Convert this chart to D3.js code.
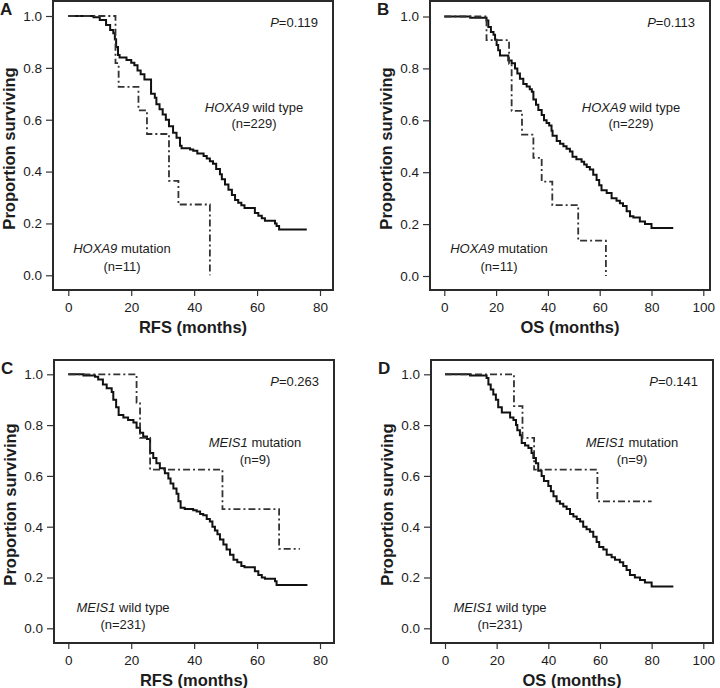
<!DOCTYPE html>
<html>
<head>
<meta charset="utf-8">
<script src="https://cdn.jsdelivr.net/npm/d3@7"></script>
<style>
  html, body { margin: 0; padding: 0; background: #fff; }
  svg { display: block; font-family: "Liberation Sans", Arial, Helvetica, sans-serif; }
</style>
</head>
<body>
<svg id="chart" width="720" height="688"></svg>
<script>
// Kaplan-Meier curves: [month, proportion surviving]
const hoxa9WildRFS = [[0,1],[8,0.995],[10,0.985],[12,0.965],[13.3,0.946],[14.3,0.933],[14.8,0.91],[15.2,0.88],[15.8,0.85],[16.3,0.84],
  [18.5,0.83],[20,0.82],[21,0.81],[22,0.79],[23,0.775],[24.2,0.755],[26.3,0.70],[27.5,0.685],[28,0.66],[29,0.64],[30,0.62],[31,0.60],
  [32,0.575],[33.3,0.55],[34.4,0.53],[35.5,0.50],[36,0.49],[38.7,0.485],[39.7,0.48],[41,0.47],[43,0.46],[44,0.45],[45,0.44],[46,0.43],
  [47,0.41],[48.2,0.39],[48.8,0.37],[49.8,0.35],[50.9,0.33],[52,0.31],[53,0.29],[54,0.28],[55,0.27],[56,0.26],[59.3,0.24],[60.4,0.23],
  [61.5,0.22],[62.5,0.21],[65.7,0.20],[66.2,0.19],[67,0.177],[75.8,0.177]];
const hoxa9MutRFS = [[0,1],[15,0.818],[16,0.727],[22.3,0.636],[25,0.545],[32,0.364],[35,0.273],[45,0]];

const hoxa9WildOS = [[0,1],[10,0.995],[16.3,0.985],[17,0.96],[18,0.94],[19,0.93],[19.6,0.91],[20.2,0.89],[20.8,0.87],[21.5,0.85],
  [24.7,0.83],[26,0.82],[27.3,0.80],[28.2,0.78],[29.2,0.76],[30.5,0.74],[31.8,0.73],[33,0.72],[33.8,0.71],[34.4,0.68],[35.4,0.66],
  [36.3,0.64],[37.6,0.62],[38.5,0.60],[39.5,0.59],[40.5,0.58],[41.4,0.56],[41.8,0.54],[43.4,0.52],[44.7,0.51],[46,0.50],[47.2,0.49],
  [48.5,0.48],[49.5,0.46],[51,0.45],[53,0.44],[54,0.43],[55,0.42],[56.2,0.41],[57.5,0.39],[58.8,0.37],[59.8,0.35],[60.7,0.33],
  [62.7,0.32],[64.6,0.30],[66.5,0.29],[67.8,0.28],[69,0.27],[70.4,0.25],[71.7,0.23],[73,0.225],[75.5,0.21],[77.5,0.20],[80,0.185],[88.4,0.185]];
const hoxa9MutOS = [[0,1],[16.3,0.909],[25,0.818],[26,0.636],[30,0.545],[34.4,0.455],[37.6,0.364],[41.7,0.273],[51.7,0.136],[62.4,0]];

const meis1WildRFS = [[0,1],[4.8,0.995],[8.5,0.99],[9.5,0.98],[11,0.96],[12.2,0.945],[13.8,0.93],[14.3,0.90],[15.2,0.87],[16,0.84],
  [17.5,0.83],[19,0.82],[20.7,0.81],[21.7,0.79],[22.8,0.77],[23.8,0.755],[25,0.745],[26,0.69],[27,0.67],[28,0.65],[29.1,0.63],
  [30.7,0.61],[31.8,0.59],[32.5,0.57],[33.4,0.55],[34.4,0.53],[35,0.50],[35.7,0.475],[37,0.47],[39.7,0.465],[40.8,0.46],[41.9,0.45],
  [42.9,0.445],[44,0.43],[45,0.42],[45.8,0.40],[46.6,0.385],[47.4,0.37],[48.2,0.35],[49.3,0.33],[50.3,0.31],[51.4,0.29],[52.5,0.27],
  [53.7,0.26],[55,0.245],[56,0.24],[59.3,0.225],[60.4,0.21],[61.5,0.20],[62.5,0.195],[65.7,0.185],[66.2,0.17],[76,0.17]];
const meis1MutRFS = [[0,1],[21.7,0.889],[22.8,0.75],[26,0.625],[49,0.469],[67,0.3125],[73.6,0.3125]];

const meis1WildOS = [[0,1],[9.7,0.995],[16.1,0.985],[16.8,0.96],[17.7,0.94],[18.7,0.92],[19.7,0.90],[20.6,0.87],[22,0.85],[25.2,0.83],
  [26.5,0.82],[27.5,0.80],[28,0.78],[29,0.76],[29.7,0.73],[31,0.72],[32.3,0.71],[33.5,0.69],[34.2,0.67],[35.2,0.65],[36.1,0.62],
  [37.4,0.60],[38.3,0.58],[40,0.56],[41,0.54],[42,0.52],[43.2,0.50],[44.5,0.49],[45.8,0.48],[47.1,0.47],[48.4,0.45],[49.7,0.44],
  [51,0.43],[52.3,0.42],[53.5,0.40],[54.8,0.39],[56.1,0.38],[57.4,0.36],[58.7,0.34],[59.7,0.32],[61.3,0.31],[62.6,0.29],[64.5,0.28],
  [65.8,0.27],[67.7,0.26],[69,0.245],[70.3,0.23],[71.6,0.21],[73.5,0.20],[75.5,0.19],[77.4,0.18],[80,0.165],[88.4,0.165]];
const meis1MutOS = [[0,1],[26.7,0.875],[30,0.75],[34.5,0.625],[59,0.5],[80,0.5]];

const yTicks = [0, 0.2, 0.4, 0.6, 0.8, 1.0];
const xTicksRFS = [0, 20, 40, 60, 80];
const xTicksOS = [0, 20, 40, 60, 80, 100];
const pValues = ['0.119', '0.113', '0.263', '0.141'];

const svg = d3.select('#chart');
const ink = '#1c1c1c';

const panels = [
  { letter: 'A', frame: [53, 333, 1, 290], xMax: 80, xRange: [68.3, 320], yRange: [275.3, 16], xTicks: xTicksRFS, xTitle: 'RFS (months)',
    wild: hoxa9WildRFS, mut: hoxa9MutRFS, p: pValues[0], gene: 'HOXA9', wildN: 229, mutN: 11, mutOnTop: false },
  { letter: 'B', frame: [430, 710, 1, 290], xMax: 100, xRange: [444.3, 703.3], yRange: [276, 16.5], xTicks: xTicksOS, xTitle: 'OS (months)',
    wild: hoxa9WildOS, mut: hoxa9MutOS, p: pValues[1], gene: 'HOXA9', wildN: 229, mutN: 11, mutOnTop: false },
  { letter: 'C', frame: [54, 334, 360, 643], xMax: 80, xRange: [68.3, 320], yRange: [628.3, 374.3], xTicks: xTicksRFS, xTitle: 'RFS (months)',
    wild: meis1WildRFS, mut: meis1MutRFS, p: pValues[2], gene: 'MEIS1', wildN: 231, mutN: 9, mutOnTop: true },
  { letter: 'D', frame: [431, 713, 360, 643], xMax: 100, xRange: [445, 703.3], yRange: [628.3, 374.3], xTicks: xTicksOS, xTitle: 'OS (months)',
    wild: meis1WildOS, mut: meis1MutOS, p: pValues[3], gene: 'MEIS1', wildN: 231, mutN: 9, mutOnTop: true },
];

function label(g, x, y, parts, anchor) {
  const t = g.append('text').attr('x', x).attr('y', y).attr('text-anchor', anchor || 'middle')
    .attr('font-size', 13).attr('fill', ink);
  parts.forEach(([s, italic]) => t.append('tspan').attr('font-style', italic ? 'italic' : null).text(s));
  return t;
}

function drawPanel(cfg) {
  const [fx0, fx1, fy0, fy1] = cfg.frame;
  const g = svg.append('g').attr('class', 'panel');
  const x = d3.scaleLinear().domain([0, cfg.xMax]).range(cfg.xRange);
  const y = d3.scaleLinear().domain([0, 1]).range(cfg.yRange);

  g.append('rect').attr('x', fx0).attr('y', fy0).attr('width', fx1 - fx0).attr('height', fy1 - fy0)
    .attr('fill', '#fff').attr('stroke', '#2a2a2a').attr('stroke-width', 2);

  const xAxis = g.append('g').attr('transform', `translate(0,${fy1 + 1})`)
    .call(d3.axisBottom(x).tickValues(cfg.xTicks).tickSize(5).tickPadding(6).tickFormat(d3.format('d')));
  const yAxis = g.append('g').attr('transform', `translate(${fx0 - 1},0)`)
    .call(d3.axisLeft(y).tickValues(yTicks).tickSize(6).tickPadding(4).tickFormat(d3.format('.1f')));
  [xAxis, yAxis].forEach(a => {
    a.select('.domain').remove();
    a.selectAll('line').attr('stroke', '#333').attr('stroke-width', 1.2);
    a.selectAll('text').attr('font-size', 13.5).attr('fill', ink).attr('font-family', null);
  });

  const line = d3.line().x(d => x(d[0])).y(d => y(d[1])).curve(d3.curveStepAfter);
  g.append('path').datum(cfg.wild).attr('d', line).attr('fill', 'none')
    .attr('stroke', '#111').attr('stroke-width', 2).attr('stroke-linejoin', 'miter');
  g.append('path').datum(cfg.mut).attr('d', line).attr('fill', 'none')
    .attr('stroke', '#333').attr('stroke-width', 1.8).attr('stroke-dasharray', '7,3,2,3');

  const cx = (fx0 + fx1) / 2;
  g.append('text').attr('x', cx).attr('y', fy1 + 43).attr('text-anchor', 'middle')
    .attr('font-size', 16.5).attr('font-weight', 'bold').attr('fill', ink).text(cfg.xTitle);
  g.append('text').attr('transform', `translate(${fx0 - 38},${(fy0 + fy1) / 2 + 3}) rotate(-90)`)
    .attr('text-anchor', 'middle').attr('font-size', 16.5).attr('font-weight', 'bold').attr('fill', ink)
    .text('Proportion surviving');
  g.append('text').attr('x', fx0 - 53).attr('y', fy0 + 14).attr('font-size', 17).attr('font-weight', 'bold')
    .attr('fill', ink).text(cfg.letter);

  label(g, fx1 - 15, fy0 + 26, [['P', true], ['=' + cfg.p, false]], 'end');

  const upperX = fx0 + 201, lowerX = fx0 + 69;
  const upperY = fy0 + 87, lowerY = fy0 + 252;
  if (!cfg.mutOnTop) {
    label(g, upperX, upperY + 24, [[cfg.gene, true], [' wild type', false]]);
    label(g, upperX, upperY + 40, [[`(n=${cfg.wildN})`, false]]);
    label(g, lowerX, lowerY, [[cfg.gene, true], [' mutation', false]]);
    label(g, lowerX, lowerY + 18, [[`(n=${cfg.mutN})`, false]]);
  } else {
    label(g, upperX, upperY, [[cfg.gene, true], [' mutation', false]]);
    label(g, upperX, upperY + 17, [[`(n=${cfg.mutN})`, false]]);
    label(g, lowerX, lowerY, [[cfg.gene, true], [' wild type', false]]);
    label(g, lowerX, lowerY + 17, [[`(n=${cfg.wildN})`, false]]);
  }
}

panels.forEach(drawPanel);
</script>
</body>
</html>
